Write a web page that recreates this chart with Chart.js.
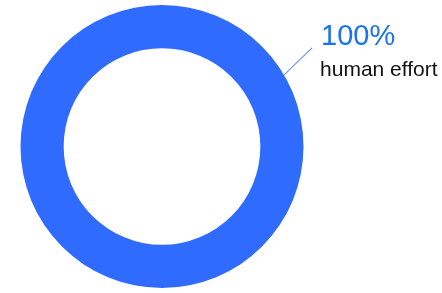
<!DOCTYPE html>
<html>
<head>
<meta charset="utf-8">
<script src="https://cdn.jsdelivr.net/npm/chart.js@4"></script>
<style>
  html, body { margin: 0; padding: 0; background: #ffffff; }
  #wrap { width: 442px; height: 293px; position: relative; }
</style>
</head>
<body>
<div id="wrap"><canvas id="effortChart"></canvas></div>
<script>
const categories = ['human effort'];
const shares = [100];
const sliceColors = ['#2f6bff'];

// Leader line + label next to the ring
const calloutLabel = {
  id: 'calloutLabel',
  afterDraw(chart) {
    const ctx = chart.ctx;
    const arc = chart.getDatasetMeta(0).data[0];
    const total = shares.reduce((a, b) => a + b, 0);
    const pct = Math.round(shares[0] / total * 100) + '%';
    const ang = -30.4 * Math.PI / 180;
    const sx = arc.x + arc.outerRadius * Math.cos(ang);
    const sy = arc.y + arc.outerRadius * Math.sin(ang);
    const ex = sx + 28;
    const ey = sy - 27;

    ctx.save();
    ctx.strokeStyle = '#6f93f7';
    ctx.lineWidth = 1.2;
    ctx.beginPath();
    ctx.moveTo(sx, sy);
    ctx.lineTo(ex, ey);
    ctx.stroke();

    ctx.textAlign = 'left';
    ctx.textBaseline = 'alphabetic';
    ctx.fillStyle = '#1a73e8';
    ctx.font = '29px "Liberation Sans", Arial, sans-serif';
    ctx.fillText(pct, ex + 9, ey - 3);
    ctx.fillStyle = '#111111';
    ctx.font = '21px "Liberation Sans", Arial, sans-serif';
    ctx.fillText(categories[0], ex + 8, ey + 28);
    ctx.restore();
  }
};

new Chart(document.getElementById('effortChart'), {
  type: 'doughnut',
  data: {
    labels: categories,
    datasets: [{
      data: shares,
      backgroundColor: sliceColors,
      borderWidth: 0
    }]
  },
  options: {
    responsive: true,
    maintainAspectRatio: false,
    animation: false,
    cutout: '69.5%',
    layout: {
      padding: { left: 20, right: 138, top: 5, bottom: 5 }
    },
    plugins: {
      legend: { display: false },
      tooltip: { enabled: false }
    }
  },
  plugins: [calloutLabel]
});
</script>
</body>
</html>
